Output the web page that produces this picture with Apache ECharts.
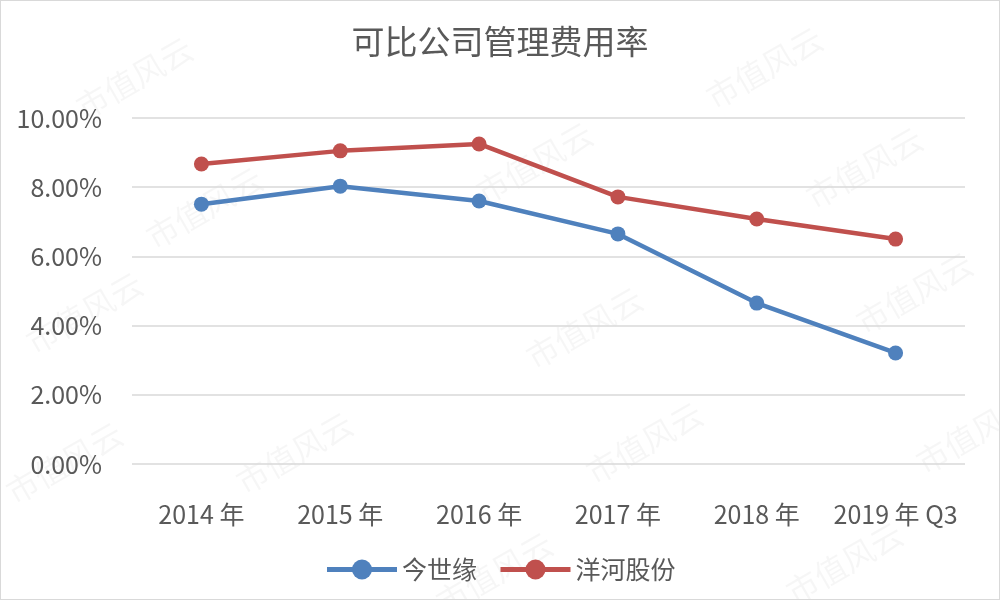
<!DOCTYPE html>
<html>
<head>
<meta charset="utf-8">
<script src="https://cdn.jsdelivr.net/npm/echarts@6/dist/echarts.min.js"></script>
<style>
  html, body { margin: 0; padding: 0; background: #fff; }
  #main { width: 998px; height: 598px; border: 1px solid #d9d9d9; }
</style>
</head>
<body>
<div id="main"></div>
<script>
// 数据
const years = ['2014 年', '2015 年', '2016 年', '2017 年', '2018 年', '2019 年 Q3']
const jinshiyuan = [7.51, 8.03, 7.60, 6.65, 4.65, 3.21]
const yanghe = [8.67, 9.05, 9.25, 7.72, 7.08, 6.50]
const yTicks = [0, 2, 4, 6, 8, 10]

const myChart = echarts.init(document.getElementById('main'))
const font = '"Noto Sans CJK SC", "Noto Sans", sans-serif'

// 水印
const marks = []
const spots = [[70, 95], [700, 85], [140, 225], [470, 180], [800, 185], [20, 330],
  [520, 345], [850, 310], [230, 470], [580, 460], [910, 450], [430, 590], [780, 580], [0, 480]]
spots.forEach(p => {
  marks.push({
    type: 'text', x: p[0], y: p[1], rotation: Math.PI / 6, z: -1,
    style: { text: '市值风云', fontSize: 32, fill: 'rgba(0,0,0,0.035)', fontFamily: font }
  })
})

const option = {
  animation: false,
  title: {
    text: '可比公司管理费用率',
    left: 'center',
    top: 19,
    textStyle: { fontSize: 33, fontWeight: 'normal', color: '#595959', fontFamily: font }
  },
  graphic: marks,
  grid: { left: 131, right: 34, top: 117, bottom: 135 },
  legend: {
    bottom: 12,
    itemWidth: 70,
    itemHeight: 25,
    itemGap: 21,
    lineStyle: { width: 5 },
    textStyle: { fontSize: 25, color: '#595959', fontFamily: font },
    data: ['今世缘', '洋河股份']
  },
  xAxis: {
    type: 'category',
    data: years,
    axisLine: { show: false },
    axisTick: { show: false },
    axisLabel: { interval: 0, fontSize: 25, color: '#595959', margin: 38, fontFamily: font }
  },
  yAxis: {
    type: 'value',
    min: 0,
    max: 10,
    interval: 2,
    axisLine: { show: false },
    axisTick: { show: false },
    axisLabel: {
      fontSize: 25, color: '#595959', margin: 30, fontFamily: font,
      formatter: v => yTicks.includes(v) ? v.toFixed(2) + '%' : ''
    },
    splitLine: { lineStyle: { color: '#d9d9d9', width: 1.5 } }
  },
  series: [
    {
      name: '今世缘',
      type: 'line',
      data: jinshiyuan,
      symbol: 'circle',
      symbolSize: 15,
      color: '#4f81bd',
      lineStyle: { width: 4.5 }
    },
    {
      name: '洋河股份',
      type: 'line',
      data: yanghe,
      symbol: 'circle',
      symbolSize: 15,
      color: '#c0504d',
      lineStyle: { width: 4.5 }
    }
  ]
}
myChart.setOption(option)
</script>
</body>
</html>
